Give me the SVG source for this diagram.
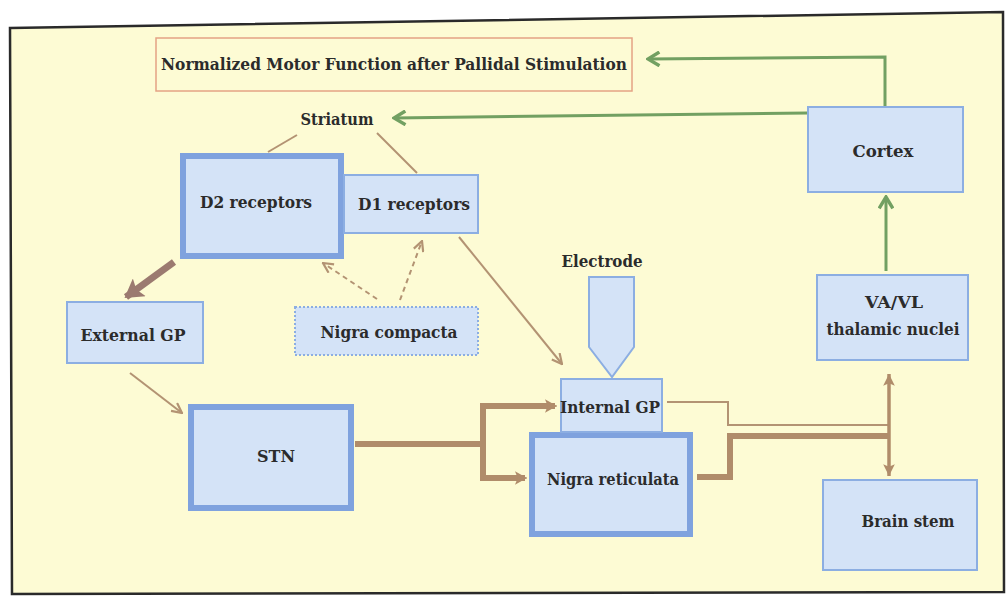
<svg xmlns="http://www.w3.org/2000/svg" width="1007" height="597" viewBox="0 0 1007 597">
<defs>
<style>
.box{fill:#d4e3f7;stroke:#8caee2;stroke-width:2}
.thick{fill:#d4e3f7;stroke:#7fa2de;stroke-width:6}
.dot{fill:#d4e3f7;stroke:#8caee2;stroke-width:2;stroke-dasharray:2 2}
.t{font-family:"DejaVu Serif","Liberation Serif",serif;font-weight:bold;font-size:17.5px;fill:#2b2b2b;text-anchor:middle}
.green{fill:none;stroke:#72a062;stroke-width:3}
.bthin{fill:none;stroke:#b39373;stroke-width:2}
.bthick{fill:none;stroke:#b08c6a;stroke-width:6}
.bmid{fill:none;stroke:#b08c6a;stroke-width:3.5}
.dash{fill:none;stroke:#b39373;stroke-width:2;stroke-dasharray:5 4}
</style>
<marker id="mg" viewBox="0 0 14 14" refX="12" refY="7" markerWidth="16" markerHeight="16" markerUnits="userSpaceOnUse" orient="auto">
<path d="M2,1 L12,7 L2,13" fill="none" stroke="#72a062" stroke-width="3"/>
</marker>
<marker id="mb" viewBox="0 0 12 12" refX="11" refY="6" markerWidth="12" markerHeight="12" markerUnits="userSpaceOnUse" orient="auto">
<path d="M1,1 L11,6 L1,11" fill="none" stroke="#b39373" stroke-width="2.2"/>
</marker>
<marker id="mt" viewBox="0 0 12 12" refX="11" refY="6" markerWidth="16" markerHeight="16" markerUnits="userSpaceOnUse" orient="auto">
<path d="M2,1 L11,6 L2,11 L4,6 Z" fill="#b08c6a"/>
</marker>
<marker id="mv" viewBox="0 0 12 12" refX="11" refY="6" markerWidth="14" markerHeight="14" markerUnits="userSpaceOnUse" orient="auto-start-reverse">
<path d="M1,1 L11,6 L1,11 L3,6 Z" fill="#b08c6a"/>
</marker>
<marker id="mm" viewBox="0 0 12 12" refX="10" refY="6" markerWidth="22" markerHeight="22" markerUnits="userSpaceOnUse" orient="auto">
<path d="M1,0 L11,6 L1,12 L3,6 Z" fill="#9b7a70"/>
</marker>
</defs>
<rect x="0" y="0" width="1007" height="597" fill="#ffffff"/>
<polygon points="10,28 1003,12 1004,592 12,594" fill="#fdfbd4" stroke="#2a2a2a" stroke-width="2.5"/>

<g id="connectors">
<polyline class="green" points="885,107 885,57 648,59" marker-end="url(#mg)"/>
<line class="green" x1="808" y1="113" x2="394" y2="118" marker-end="url(#mg)"/>
<line class="green" x1="886" y1="271" x2="886" y2="197" marker-end="url(#mg)"/>
<line class="bthin" x1="297" y1="135" x2="268" y2="152"/>
<line class="bthin" x1="377" y1="133" x2="417" y2="173"/>
<line x1="174" y1="262" x2="126" y2="297" stroke="#9b7a70" stroke-width="7" marker-end="url(#mm)"/>
<line class="bthin" x1="130" y1="373" x2="182" y2="413" marker-end="url(#mb)"/>
<line class="dash" x1="377" y1="299" x2="323" y2="263" marker-end="url(#mb)"/>
<line class="dash" x1="400" y1="300" x2="422" y2="241" marker-end="url(#mb)"/>
<line class="bthin" x1="459" y1="237" x2="562" y2="364" marker-end="url(#mb)"/>
<polyline class="bthick" points="355,444 483,444"/>
<polyline class="bthick" points="555,406 483,406 483,478 525,478"/>
<line x1="540" y1="406" x2="557" y2="406" stroke="#b08c6a" stroke-width="1" marker-end="url(#mt)"/>
<line x1="510" y1="478" x2="527" y2="478" stroke="#b08c6a" stroke-width="1" marker-end="url(#mt)"/>
<polyline class="bthin" points="667,402 728,402 728,425 889,425"/>
<polyline class="bthick" points="697,477 730,477 730,436 889,436"/>
<line class="bmid" x1="889" y1="374" x2="889" y2="476" marker-start="url(#mv)" marker-end="url(#mv)"/>
</g>

<g id="title">
<rect x="156" y="38" width="476" height="53" fill="#fdfbd4" stroke="#e4a384" stroke-width="1.5"/>
<text class="t" x="394" y="70" font-size="18" textLength="466" lengthAdjust="spacingAndGlyphs">Normalized Motor Function after Pallidal Stimulation</text>
</g>
<g id="striatum">
<text class="t" x="337" y="125" textLength="73" lengthAdjust="spacingAndGlyphs">Striatum</text>
</g>
<g id="d2">
<rect class="thick" x="183" y="156" width="158" height="100"/>
<text class="t" x="256" y="208" textLength="112" lengthAdjust="spacingAndGlyphs">D2 receptors</text>
</g>
<g id="d1">
<rect class="box" x="344" y="175" width="134" height="58"/>
<text class="t" x="414" y="210" textLength="112" lengthAdjust="spacingAndGlyphs">D1 receptors</text>
</g>
<g id="external-gp">
<rect class="box" x="67" y="302" width="136" height="61"/>
<text class="t" x="133" y="341" textLength="105" lengthAdjust="spacingAndGlyphs">External GP</text>
</g>
<g id="nigra-compacta">
<rect class="dot" x="295" y="307" width="183" height="48"/>
<text class="t" x="389" y="338" textLength="137" lengthAdjust="spacingAndGlyphs">Nigra compacta</text>
</g>
<g id="stn">
<rect class="thick" x="191" y="407" width="160" height="101"/>
<text class="t" x="276" y="462" textLength="38" lengthAdjust="spacingAndGlyphs">STN</text>
</g>
<g id="electrode">
<text class="t" x="602" y="267" textLength="81" lengthAdjust="spacingAndGlyphs">Electrode</text>
<polygon points="589,277 634,277 634,347 612,377 589,347" fill="#d4e3f7" stroke="#8caee2" stroke-width="2"/>
</g>
<g id="nigra-reticulata">
<rect class="thick" x="532" y="435" width="158" height="99"/>
<text class="t" x="613" y="485" textLength="132" lengthAdjust="spacingAndGlyphs">Nigra reticulata</text>
</g>
<g id="internal-gp">
<rect class="box" x="561" y="379" width="101" height="53"/>
<text class="t" x="610" y="413" textLength="100" lengthAdjust="spacingAndGlyphs">Internal GP</text>
</g>
<g id="cortex">
<rect class="box" x="808" y="107" width="155" height="85"/>
<text class="t" x="883" y="157" textLength="61" lengthAdjust="spacingAndGlyphs">Cortex</text>
</g>
<g id="vavl">
<rect class="box" x="817" y="275" width="151" height="85"/>
<text class="t" x="894" y="308" textLength="58" lengthAdjust="spacingAndGlyphs">VA/VL</text>
<text class="t" x="893" y="335" textLength="133" lengthAdjust="spacingAndGlyphs">thalamic nuclei</text>
</g>
<g id="brain-stem">
<rect class="box" x="823" y="480" width="154" height="90"/>
<text class="t" x="908" y="527" textLength="93" lengthAdjust="spacingAndGlyphs">Brain stem</text>
</g>
</svg>
